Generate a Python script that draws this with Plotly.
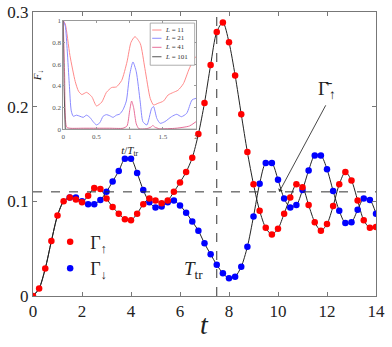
import plotly.graph_objects as go

# ---- main data ----
t = [i * 0.25 for i in range(57)]
gamma_up = [0.000, 0.008, 0.029, 0.058, 0.085, 0.100, 0.104, 0.102, 0.099, 0.106,
            0.114, 0.113, 0.103, 0.094, 0.087, 0.081, 0.080, 0.087, 0.097, 0.103,
            0.101, 0.098, 0.101, 0.110, 0.120, 0.131, 0.146, 0.171, 0.204, 0.244,
            0.279, 0.289, 0.268, 0.233, 0.192, 0.152, 0.118, 0.090, 0.072, 0.065,
            0.071, 0.087, 0.104, 0.118, 0.115, 0.096, 0.078, 0.069, 0.076, 0.095,
            0.118, 0.131, 0.122, 0.101, 0.080, 0.072, 0.073]
gamma_down = [0.000, 0.008, 0.029, 0.058, 0.085, 0.100, 0.104, 0.104, 0.100, 0.097,
              0.097, 0.1015, 0.110, 0.121, 0.132, 0.145, 0.145, 0.130, 0.112, 0.099,
              0.0935, 0.0946, 0.099, 0.101, 0.0956, 0.088, 0.0786, 0.069, 0.0556, 0.044,
              0.033, 0.024, 0.0187, 0.0204, 0.031, 0.052, 0.084, 0.1185, 0.1404, 0.1404,
              0.1228, 0.103, 0.0935, 0.096, 0.112, 0.1326, 0.1485, 0.1485, 0.134, 0.111,
              0.090, 0.077, 0.078, 0.091, 0.103, 0.1015, 0.087]
gamma_bar = 0.11
T_tr = 7.5
x_ticks = [0, 2, 4, 6, 8, 10, 12, 14]
y_ticks = [0, 0.1, 0.2, 0.3]
y_tick_text = ["0", "0.1", "0.2", "0.3"]

# ---- inset data ----
L_values = [11, 21, 41, 101]
L_colors = ["#ff8a8a", "#8a8aff", "#e8709a", "#555555"]
s11 = [0, 0.03, 0.1, 0.18, 0.23, 0.28, 0.35, 0.43, 0.5, 0.58, 0.65, 0.73, 0.8, 0.88,
       0.96, 1.02, 1.08, 1.16, 1.23, 1.31, 1.36, 1.43, 1.51, 1.58, 1.66, 1.73, 1.81,
       1.89, 1.96, 2.0]
F11 = [1.0, 0.97, 0.68, 0.44, 0.35, 0.32, 0.34, 0.30, 0.215, 0.25, 0.34, 0.385, 0.39,
       0.45, 0.62, 0.80, 0.853, 0.79, 0.56, 0.285, 0.224, 0.24, 0.26, 0.316, 0.34, 0.36,
       0.42, 0.546, 0.64, 0.67]
s21 = [0, 0.03, 0.06, 0.09, 0.12, 0.15, 0.2, 0.25, 0.3, 0.35, 0.4, 0.45, 0.5, 0.55, 0.6,
       0.65, 0.7, 0.75, 0.8, 0.85, 0.9, 0.95, 1.0, 1.05, 1.1, 1.16, 1.2, 1.26, 1.33, 1.36,
       1.41, 1.46, 1.53, 1.63, 1.71, 1.78, 1.86, 1.94, 2.0]
F21 = [1.0, 0.95, 0.72, 0.42, 0.17, 0.12, 0.13, 0.12, 0.11, 0.13, 0.11, 0.07, 0.04, 0.06,
       0.12, 0.135, 0.125, 0.11, 0.13, 0.14, 0.18, 0.26, 0.50, 0.62, 0.53, 0.25, 0.07, 0.04,
       0.19, 0.21, 0.10, 0.055, 0.07, 0.116, 0.138, 0.116, 0.147, 0.27, 0.285]
s41 = [0, 0.02, 0.05, 0.1, 0.3, 0.5, 0.7, 0.9, 0.96, 1.0, 1.03, 1.06, 1.1, 1.14, 1.25,
       1.32, 1.35, 1.38, 1.45, 1.7, 1.9, 2.0]
F41 = [1.0, 0.5, 0.02, 0.01, 0.01, 0.01, 0.01, 0.01, 0.03, 0.17, 0.26, 0.2, 0.05, 0.005,
       0.005, 0.02, 0.035, 0.02, 0.005, 0.01, 0.03, 0.07]
s101 = [0, 0.01, 0.03, 2.0]
F101 = [1.0, 0.4, 0.0, 0.0]
inset_s = [s11, s21, s41, s101]
inset_F = [F11, F21, F41, F101]

FONT = "Liberation Serif, DejaVu Serif, serif"
fig = go.Figure()

# black guide curves
for ys in (gamma_up, gamma_down):
    fig.add_trace(go.Scatter(x=t, y=ys, mode="lines", line=dict(color="#222", width=1, shape="spline", smoothing=0.8),
                             showlegend=False, hoverinfo="skip"))
fig.add_trace(go.Scatter(x=t[6:], y=gamma_down[6:], mode="markers", name="Γ<sub>↓</sub>",
                         marker=dict(color="#0000ff", size=6.5)))
fig.add_trace(go.Scatter(x=t, y=gamma_up, mode="markers", name="Γ<sub>↑</sub>",
                         marker=dict(color="#ff0000", size=6.5)))

# inset traces
for L, c, s, F in zip(L_values, L_colors, inset_s, inset_F):
    fig.add_trace(go.Scatter(x=s, y=F, xaxis="x2", yaxis="y2", mode="lines",
                             line=dict(color=c, width=1, shape="spline" if L != 101 else "linear", smoothing=0.6),
                             showlegend=False, name=f"L = {L}"))

frame = "#777"
fig.update_layout(
    width=392, height=347,
    margin=dict(l=33, r=16, t=12, b=51, autoexpand=False),
    paper_bgcolor="white", plot_bgcolor="white",
    font=dict(family=FONT, size=16, color="#222"),
    xaxis=dict(range=[0, 14], tickvals=x_ticks, ticks="inside", ticklen=4, tickcolor=frame,
               showline=True, linecolor=frame, mirror="ticks", showgrid=False, zeroline=False,
               tickfont=dict(family=FONT, size=17), automargin=False),
    yaxis=dict(range=[0, 0.3], tickvals=y_ticks, ticktext=y_tick_text, ticks="inside", ticklen=4,
               tickcolor=frame, showline=True, linecolor=frame, mirror="ticks", showgrid=False,
               zeroline=False, tickfont=dict(family=FONT, size=17), automargin=False),
    xaxis2=dict(domain=[0.0883, 0.4752], anchor="y2", range=[0, 2], tickvals=[0, 0.5, 1, 1.5, 2],
                ticktext=["0", "0.5", "1", "1.5", "2"], ticks="inside", ticklen=2, tickcolor="#999",
                showline=True, linecolor="#999", mirror="ticks", showgrid=False, zeroline=False,
                tickfont=dict(family=FONT, size=7, color="#555"), automargin=False,
                title=dict(text="<i>t</i>/<i>T</i><sub>tr</sub>", font=dict(family=FONT, size=11), standoff=6)),
    yaxis2=dict(domain=[0.587, 0.9694], anchor="x2", range=[0, 1], tickvals=[0, 0.2, 0.4, 0.6, 0.8, 1],
                ticktext=["0", "0.2", "0.4", "0.6", "0.8", "1"], ticks="inside", ticklen=2,
                tickcolor="#999", showline=True, linecolor="#999", mirror="ticks", showgrid=False,
                zeroline=False, tickfont=dict(family=FONT, size=7, color="#555"), automargin=False,
                title=dict(text="<i>F</i><sub>↓</sub>", font=dict(family=FONT, size=11), standoff=8)),
    legend=dict(x=0.05, y=0.255, xanchor="left", yanchor="top", bgcolor="rgba(0,0,0,0)",
                font=dict(family=FONT, size=18), tracegroupgap=0, itemwidth=30, traceorder="reversed"),
    showlegend=True,
)

# x-axis label
fig.add_annotation(x=7, y=-0.1, xref="x", yref="paper", yanchor="middle", text="<i>t</i>",
                   showarrow=False, font=dict(family=FONT, size=28))

# dashed reference lines
fig.add_shape(type="line", x0=0, x1=14, y0=gamma_bar, y1=gamma_bar, xref="x", yref="y",
              line=dict(color="#333", width=1, dash="dash"))
fig.add_shape(type="line", x0=T_tr, x1=T_tr, y0=0, y1=0.3, xref="x", yref="y",
              line=dict(color="#333", width=1, dash="dash"))

fig.add_annotation(x=10.05, y=gamma_bar, ax=11.98, ay=0.203, xref="x", yref="y", axref="x", ayref="y",
                   text="", showarrow=True, arrowhead=1, arrowsize=1, arrowwidth=0.9, arrowcolor="#333")
fig.add_annotation(x=11.98, y=0.218, xref="x", yref="y", text="Γ\u0304<sub>↑</sub>", showarrow=False,
                   font=dict(family=FONT, size=19))
fig.add_annotation(x=6.57, y=0.027, xref="x", yref="y", text="<i>T</i><sub>tr</sub>", showarrow=False,
                   font=dict(family=FONT, size=19))

# inset legend (drawn in inset coordinates)
fig.add_shape(type="rect", x0=1.31, x1=1.98, y0=0.59, y1=0.978, xref="x2", yref="y2",
              line=dict(color="#999", width=0.8), fillcolor="white")
rows = [0.914, 0.838, 0.755, 0.668]
for L, c, yy in zip(L_values, L_colors, rows):
    fig.add_shape(type="line", x0=1.34, x1=1.48, y0=yy, y1=yy, xref="x2", yref="y2",
                  line=dict(color=c, width=1))
    fig.add_annotation(x=1.51, y=yy, xref="x2", yref="y2", xanchor="left", showarrow=False,
                       text=f"<i>L</i> = {L}", font=dict(family=FONT, size=7, color="#333"))

fig.write_html("out.html")
